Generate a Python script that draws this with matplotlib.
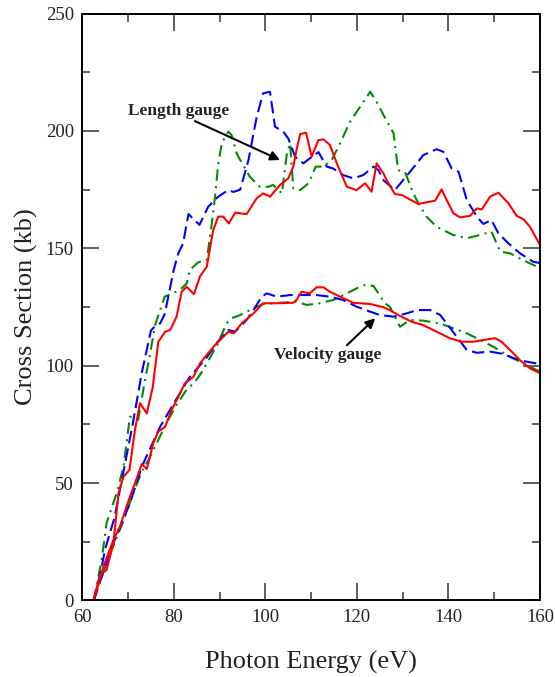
import matplotlib
matplotlib.use("Agg")
import matplotlib.pyplot as plt
from matplotlib.ticker import MultipleLocator

# ---------------- data ----------------
# Length gauge, blue dashed
len_blue_x = [62.5, 64, 65, 67, 69, 71, 73, 75, 76, 77, 78, 80, 81, 82, 83.2, 84, 85.6, 87.5, 89.7,
              91.9, 93, 94.5, 96.3, 98.1, 99.5, 101, 102.1, 103.9, 105, 106.5, 108.3, 109.7, 111.6,
              113.4, 114.8, 117, 119.2, 121.4, 123.6, 124.7, 125.8, 128.3, 131.6, 134.5, 137.4,
              138.9, 140.7, 142.2, 144, 146.2, 147.6, 149.4, 150.9, 153.1, 155.6, 158.5, 160]
len_blue_y = [0, 12, 22, 35, 55, 75, 97, 115, 117, 118, 122, 141, 148, 152, 164.6, 163, 160, 167.7, 172,
              174.8, 174, 175, 187.6, 206, 216, 216.7, 201.8, 199.7, 196.8, 189, 186.2, 188.3, 191,
              184.8, 184, 181.2, 179.8, 181.2, 184.8, 183.3, 179, 174.8, 182.6, 189.7, 192.2,
              191.1, 184, 182.6, 170.6, 163.5, 160.4, 162, 156.4, 152.1, 147.9, 144.3, 143.7]

# Length gauge, green dash-dot
len_green_x = [62.5, 64.2, 65.3, 67.5, 69, 70.4, 72.2, 73.7, 74.8, 75.9, 78, 81.3, 82.8, 83.5, 85.3,
               87.2, 88.3, 89, 89.7, 90.5, 91.9, 92.6, 93.7, 94.5, 96.6, 98.8, 100.6, 101.7, 103.6,
               104.7, 105.4, 106.1, 107.6, 109.4, 111, 112.7, 114.5, 116.3, 118.5, 120.7, 122.9,
               124.3, 125.8, 127.2, 128, 129, 130.5, 132, 133.4, 135.2, 137.4, 141, 144, 146.9,
               149.4, 151.3, 153.4, 156.3, 159.3, 160]
len_green_y = [0, 17, 33, 45.7, 57, 78.3, 76.9, 94, 105, 117.3, 129.4, 132.2, 135, 140.8, 144,
               145, 160.6, 172, 186, 195, 199.7, 198.3, 190.5, 187.6, 180.5, 176.2, 176.2, 177, 173.4,
               190.5, 194.7, 175.5, 174.8, 177.7, 184.8, 184.8, 187.6, 194.7, 203.9, 210.3, 216.7,
               212.4, 206.8, 201.8, 199, 183.3, 182.6, 174.8, 169.2, 163.5, 159.2, 155.7, 154.3, 155.7,
               157.1, 148.6, 147.9, 145, 142.2, 141.5]

# Length gauge, red solid
len_red_x = [62.4, 63.9, 65.3, 66.8, 67.9, 69, 70.3, 71.5, 72.6, 74.1, 75.4, 76.6, 78.1, 79.2, 80.6,
             81.7, 82.8, 84.4, 85.7, 87.2, 88.6, 89.7, 90.8, 92, 93.4, 94.5, 95.9, 98.1, 99.5, 101,
             103.2, 105, 106.1, 106.8, 107.6, 108.9, 110.1, 111.6, 112.7, 114.1, 115.6, 117.8,
             119.9, 121.8, 123.2, 124.3, 125.8, 126.5, 128.3, 129.8, 133.4, 137.1, 138.5, 139.6,
             141.1, 142.5, 144.7, 146.2, 147.3, 149.1, 150.9, 153.1, 154.9, 156.4, 157.8, 160]
len_red_y = [0, 10.9, 13, 24.4, 45.7, 52.7, 55.6, 72.6, 84, 79.7, 91, 110.2, 114.5, 115.2, 120.9,
             131.5, 133.6, 130.5, 138, 142.2, 157.8, 163.5, 163.5, 160.6, 165.2, 164.9, 164.6, 171.3,
             173.4, 172, 177, 179.8, 184.8, 191.9, 198.7, 199.2, 189, 196.1, 196.4, 194, 186.2, 176.2,
             174.8, 177.7, 174.1, 186.2, 181.9, 179, 173.1, 172.7, 168.9, 170.3, 175.1, 170.6,
             164.9, 163.2, 163.8, 167, 166.6, 172, 173.7, 169.2, 163.8, 162.4, 159.2, 151.4]

# Velocity gauge, blue dashed
vel_blue_x = [62.5, 63.5, 66.8, 70.4, 73, 77, 80, 83.5, 87, 89.5, 91.9, 93.4, 95.9, 97.4, 99.2,
              100.3, 102.5, 105.4, 108.3, 111.2, 114.1, 117, 120, 122.9, 125, 128, 130.9, 133.1,
              136, 138.2, 139.6, 141.8, 144, 146.2, 149.1, 152, 154.2, 157.1, 160]
vel_blue_y = [0, 5.9, 24.4, 41.4, 57, 74, 84, 95.3, 103, 110, 115.2, 114.5, 119.5, 123.7, 129.4,
              130.8, 129.4, 130.1, 130.1, 130.1, 129.4, 128, 125.1, 123, 121.6, 120.9, 122.3, 123.7,
              123.7, 121.6, 118, 112.4, 106.7, 105.5, 106, 105, 103.2, 101.7, 100.7]

# Velocity gauge, green dash-dot
vel_green_x = [62.5, 64, 66.5, 69, 71, 73, 74.5, 76.6, 78.5, 80.5, 82.5, 84.5, 85.7, 87.5, 89.5,
               91.5, 92.6, 94.5, 96.6, 99.5, 103.2, 106.8, 109, 111.9, 114.8, 117.8, 120, 121.8,
               123.6, 124.7, 126.1, 127.2, 129.4, 131.6, 134.5, 138.2, 141.1, 144, 147, 149.8,
               152.7, 155.6, 158.5, 160]
vel_green_y = [0, 9, 22, 34, 45, 55, 60, 68.4, 76, 83, 89, 93, 96, 102, 109,
               118, 120.2, 121.6, 123.7, 126.3, 126.8, 127.3, 125.9, 126.6, 128, 130.8, 133, 134.4,
               134, 130.8, 126.6, 125.1, 116.6, 119.5, 119.2, 118, 115.9, 113.8, 110.9, 108.1,
               104.6, 101.7, 98.9, 97.4]

# Velocity gauge, red solid
vel_red_x = [62.5, 64.6, 66.8, 68.2, 70.4, 71.5, 73, 74.1, 75.5, 76.6, 78.1, 79.5, 81, 82.4, 84.3,
             85.7, 87.2, 89, 90.1, 91.9, 93.1, 94.8, 97.4, 99.5, 102.5, 106.1, 106.8, 107.9, 109.7,
             111.2, 112.7, 114.1, 116.3, 119.2, 122.9, 125.8, 127.2, 129.4, 132, 134.5, 137.4,
             140.3, 142.9, 145.4, 148.4, 150.2, 151.6, 153.8, 155.6, 157.8, 160]
vel_red_y = [0, 14.4, 25.8, 31.4, 44.2, 49.9, 58.1, 56, 67, 71.9, 74, 81.1, 86.8, 92.5, 95.3,
             101, 104.6, 108.8, 110.9, 114.5, 113.8, 118, 122.3, 126.6, 126.6, 126.8, 128, 131.5, 130.8,
             133.4, 133.4, 131.5, 129.4, 126.8, 126.3, 124.9, 123.7, 121.2, 118.7, 117.3, 114.5,
             111.7, 110.2, 110.2, 111.2, 111.7, 110.2, 106, 102.4, 98.9, 96.8]

x_ticks = [60, 80, 100, 120, 140, 160]
y_ticks = [0, 50, 100, 150, 200, 250]

# ---------------- plotting ----------------
plt.rcParams['font.family'] = ['Liberation Serif', 'DejaVu Serif']

fig = plt.figure(figsize=(5.55, 6.77), dpi=100)
ax = fig.add_axes([0.1483, 0.113, 0.8247, 0.867])

blue_ls = (0, (6, 2.6))
green_ls = (0, (5.5, 2.6, 1.0, 2.6))
lw = 1.5

ax.plot(len_green_x, len_green_y, color='#008a00', lw=lw, linestyle=green_ls)
ax.plot(vel_green_x, vel_green_y, color='#008a00', lw=lw, linestyle=green_ls)
ax.plot(len_blue_x, len_blue_y, color='#0000ff', lw=lw, linestyle=blue_ls)
ax.plot(vel_blue_x, vel_blue_y, color='#0000ff', lw=lw, linestyle=blue_ls)
ax.plot(len_red_x, len_red_y, color='#ff0000', lw=lw)
ax.plot(vel_red_x, vel_red_y, color='#ff0000', lw=lw)

ax.set_xlim(60, 160)
ax.set_ylim(0, 250)
ax.set_xticks(x_ticks)
ax.set_yticks(y_ticks)
ax.xaxis.set_minor_locator(MultipleLocator(10))
ax.yaxis.set_minor_locator(MultipleLocator(25))
ax.tick_params(which='both', direction='in', top=True, right=True,
               color='#444444', labelsize=13.5, labelcolor='#222222')
ax.tick_params(which='major', length=12, width=1.2, pad=6)
ax.tick_params(which='minor', length=6, width=1.2)
for s in ax.spines.values():
    s.set_linewidth(1.4)

ax.set_xlabel('Photon Energy (eV)', fontsize=19, color='#222222', labelpad=18)
ax.set_ylabel('Cross Section (kb)', fontsize=19, color='#222222', labelpad=6)

ax.text(81, 208.6, 'Length gauge', fontsize=12.5, fontweight='bold',
        ha='center', va='center', color='#222222')
ax.annotate('', xy=(103.2, 187.6), xytext=(84.6, 204.2),
            arrowprops=dict(arrowstyle='-|>', color='black', lw=1.5,
                            mutation_scale=14, shrinkA=0, shrinkB=0))
ax.text(113.6, 104.6, 'Velocity gauge', fontsize=12.5, fontweight='bold',
        ha='center', va='center', color='#222222')
ax.annotate('', xy=(124, 120.2), xytext=(117.8, 108.7),
            arrowprops=dict(arrowstyle='-|>', color='black', lw=1.5,
                            mutation_scale=14, shrinkA=0, shrinkB=0))

fig.savefig('out.png', dpi=100)
